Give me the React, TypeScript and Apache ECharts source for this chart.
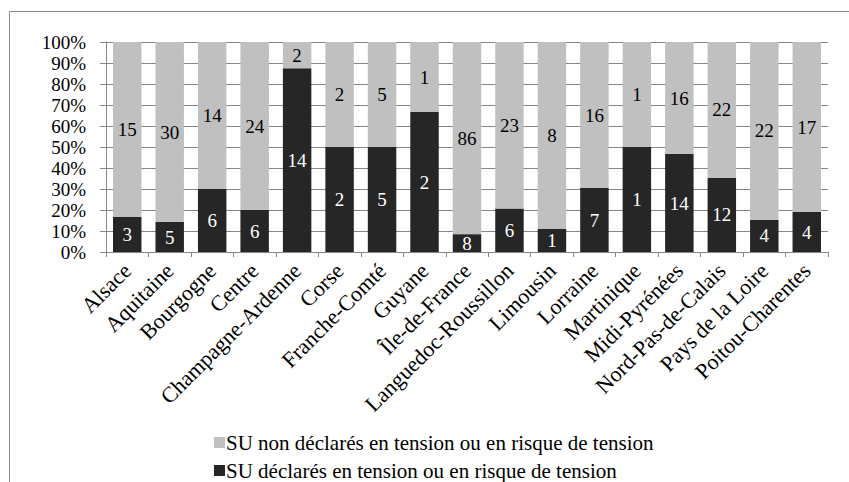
import React, { useEffect, useRef } from "react";
import * as echarts from "echarts";

const categories = [
  "Alsace", "Aquitaine", "Bourgogne", "Centre", "Champagne-Ardenne", "Corse",
  "Franche-Comté", "Guyane", "Île-de-France", "Languedoc-Roussillon", "Limousin",
  "Lorraine", "Martinique", "Midi-Pyrénées", "Nord-Pas-de-Calais", "Pays de la Loire",
  "Poitou-Charentes",
];
const tensionCounts = [3, 5, 6, 6, 14, 2, 5, 2, 8, 6, 1, 7, 1, 14, 12, 4, 4];
const nonTensionCounts = [15, 30, 14, 24, 2, 2, 5, 1, 86, 23, 8, 16, 1, 16, 22, 22, 17];
const seriesNames = [
  "SU déclarés en tension ou en risque de tension",
  "SU non déclarés en tension ou en risque de tension",
];
const yTicks = [0, 0.1, 0.2, 0.3, 0.4, 0.5, 0.6, 0.7, 0.8, 0.9, 1];

const FONT = '"Liberation Serif", "Times New Roman", serif';

export default function App() {
  const ref = useRef<HTMLDivElement>(null);
  useEffect(() => {
    if (!ref.current) return;
    const chart = echarts.init(ref.current, null, { renderer: "svg" });
    const totals = tensionCounts.map((d, i) => d + nonTensionCounts[i]);
    const darkShare = tensionCounts.map((d, i) => d / totals[i]);
    const lightShare = nonTensionCounts.map((d, i) => d / totals[i]);
    const legendText = { fontFamily: FONT, fontSize: 21, color: "#000" };
    chart.setOption({
      animation: false,
      textStyle: { fontFamily: FONT },
      graphic: [
        {
          type: "rect",
          shape: { x: 9.5, y: 11.5, width: 900, height: 600 },
          style: { fill: "none", stroke: "#868686", lineWidth: 1 },
          silent: true,
        },
      ],
      grid: { left: 106, top: 42, right: 21, bottom: 230, containLabel: false },
      legend: [
        {
          orient: "vertical",
          left: 209,
          top: 427,
          itemWidth: 11,
          itemHeight: 11,
          itemGap: 3,
          icon: "rect",
          selectedMode: false,
          data: [seriesNames[1]],
          textStyle: { ...legendText, padding: [0, 0, 0, -4] },
        },
        {
          orient: "vertical",
          left: 209,
          top: 455,
          itemWidth: 11,
          itemHeight: 11,
          itemGap: 3,
          icon: "rect",
          selectedMode: false,
          data: [seriesNames[0]],
          textStyle: { ...legendText, padding: [0, 0, 0, -4] },
        },
      ],
      xAxis: {
        type: "category",
        data: categories,
        axisLine: { lineStyle: { color: "#868686", width: 1 } },
        axisTick: { show: true, alignWithLabel: false, length: 5, lineStyle: { color: "#868686" } },
        axisLabel: {
          rotate: 45,
          interval: 0,
          margin: 15,
          fontFamily: FONT,
          fontSize: 22,
          color: "#000",
        },
      },
      yAxis: {
        type: "value",
        min: 0,
        max: 1,
        interval: 0.1,
        axisLine: { show: true, lineStyle: { color: "#868686", width: 1 } },
        axisTick: { show: true, length: 6, lineStyle: { color: "#868686" } },
        splitLine: { show: true, lineStyle: { color: "#868686", width: 1 } },
        axisLabel: {
          fontFamily: FONT,
          fontSize: 19,
          color: "#000",
          margin: 20,
          formatter: (v: number) => {
            const t = yTicks.find((x) => Math.abs(x - v) < 1e-6);
            return Math.round((t ?? v) * 100) + "%";
          },
        },
      },
      series: [
        {
          name: seriesNames[0],
          type: "bar",
          stack: "s",
          barCategoryGap: "33%",
          data: darkShare,
          itemStyle: { color: "#262626" },
          label: {
            show: true,
            position: "inside",
            color: "#fff",
            fontFamily: FONT,
            fontSize: 19,
            formatter: (p: any) => String(tensionCounts[p.dataIndex]),
          },
        },
        {
          name: seriesNames[1],
          type: "bar",
          stack: "s",
          barCategoryGap: "33%",
          data: lightShare,
          itemStyle: { color: "#c0c0c0" },
          label: {
            show: true,
            position: "inside",
            color: "#000",
            fontFamily: FONT,
            fontSize: 19,
            formatter: (p: any) => String(nonTensionCounts[p.dataIndex]),
          },
        },
      ],
    });
    return () => chart.dispose();
  }, []);
  return (
    <div
      ref={ref}
      style={{ position: "fixed", left: 0, top: 0, width: 849, height: 482, background: "#fff" }}
    />
  );
}
